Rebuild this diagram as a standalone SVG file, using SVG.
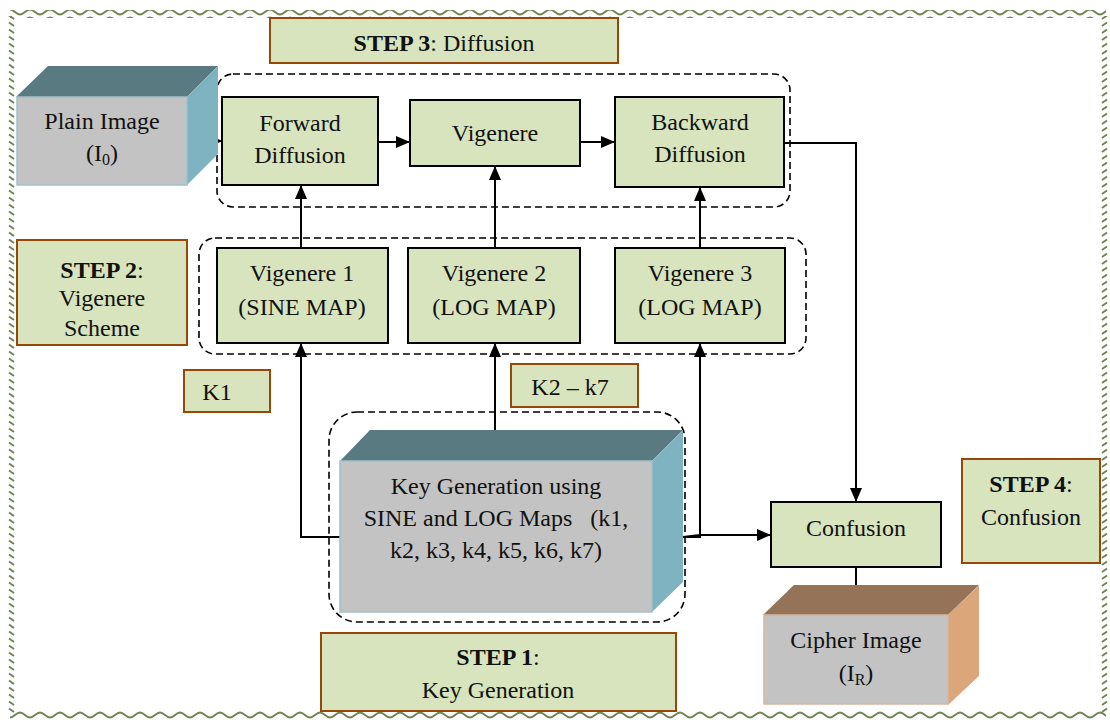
<svg xmlns="http://www.w3.org/2000/svg" width="1110" height="720" viewBox="0 0 1110 720">
  <style>
    text { font-family: "Liberation Serif", Tinos, "Times New Roman", "DejaVu Serif", serif; font-size: 24px; fill: #111; text-anchor: middle; }
    .b { font-weight: bold; }
    .node { fill: #d7e4bd; stroke: #000; stroke-width: 2; }
    .step { fill: #d7e4bd; stroke: #984806; stroke-width: 2; }
    .group { fill: none; stroke: #000; stroke-width: 1.6; stroke-dasharray: 7 4; }
    .wire { fill: none; stroke: #000; stroke-width: 2; }
    .front { fill: #c3c3c3; stroke-width: 1.5; }
  </style>
  <defs>
    <marker id="arrow" viewBox="0 0 14 12" refX="14" refY="6" markerWidth="14" markerHeight="12" markerUnits="userSpaceOnUse" orient="auto">
      <path d="M0,0 L14,6 L0,12 Z" fill="#000"/>
    </marker>
    <marker id="arrowSmall" viewBox="0 0 6 6" refX="6" refY="3" markerWidth="6" markerHeight="6" markerUnits="userSpaceOnUse" orient="auto">
      <path d="M0,0 L6,3 L0,6 Z" fill="#000"/>
    </marker>
    <pattern id="waveH" x="0" y="0" width="20" height="8" patternUnits="userSpaceOnUse">
      <path d="M0,6.5 C4,6.5 6,1.5 10,1.5 C14,1.5 16,6.5 20,6.5" fill="none" stroke="#6e8450" stroke-width="2"/>
    </pattern>
    <pattern id="waveB" x="0" y="711" width="20" height="8" patternUnits="userSpaceOnUse">
      <path d="M0,1.5 C4,1.5 6,6.5 10,6.5 C14,6.5 16,1.5 20,1.5" fill="none" stroke="#6e8450" stroke-width="2"/>
    </pattern>
    <pattern id="zigL" x="8" y="0" width="7" height="7" patternUnits="userSpaceOnUse">
      <path d="M1,1.5 L6,5" fill="none" stroke="#6e8450" stroke-width="2"/>
    </pattern>
    <pattern id="zigR" x="1101" y="0" width="7" height="7" patternUnits="userSpaceOnUse">
      <path d="M1,5 L6,1.5" fill="none" stroke="#6e8450" stroke-width="2"/>
    </pattern>
  </defs>

  <rect width="1110" height="720" fill="#fff"/>

  <!-- page border -->
  <g id="border">
    <rect x="10" y="10" width="1096" height="8" fill="url(#waveH)"/>
    <rect x="10" y="711" width="1096" height="8" fill="url(#waveB)"/>
    <rect x="8" y="16" width="7" height="697" fill="url(#zigL)"/>
    <rect x="1101" y="16" width="7" height="697" fill="url(#zigR)"/>
  </g>

  <!-- dashed stage groupings -->
  <g id="groups">
    <rect class="group" x="217" y="74" width="573" height="133" rx="16"/>
    <rect class="group" x="199" y="238" width="607" height="116" rx="16"/>
    <rect class="group" x="329" y="412" width="356" height="210" rx="28"/>
  </g>

  <!-- connectors -->
  <g id="connectors">
    <line class="wire" x1="216" y1="141" x2="222" y2="141" stroke-width="1.5" marker-end="url(#arrowSmall)"/>
    <line class="wire" x1="378" y1="142" x2="410" y2="142" marker-end="url(#arrow)"/>
    <line class="wire" x1="580" y1="142" x2="615" y2="142" marker-end="url(#arrow)"/>
    <path class="wire" d="M784,143 H856 V502" marker-end="url(#arrow)"/>
    <line class="wire" x1="301" y1="248" x2="301" y2="185" marker-end="url(#arrow)"/>
    <line class="wire" x1="495" y1="248" x2="495" y2="166" marker-end="url(#arrow)"/>
    <line class="wire" x1="700" y1="248" x2="700" y2="187" marker-end="url(#arrow)"/>
    <path class="wire" d="M340,537 H301 V343" marker-end="url(#arrow)"/>
    <line class="wire" x1="495" y1="431" x2="495" y2="343" marker-end="url(#arrow)"/>
    <path class="wire" d="M683,537 H700 V343" marker-end="url(#arrow)"/>
    <path class="wire" d="M683,537 L700,535 H771" marker-end="url(#arrow)"/>
    <line class="wire" x1="856" y1="567" x2="856" y2="586"/>
  </g>

  <!-- input image -->
  <g id="plain-image">
    <polygon points="16,97 48,66 218,66 187,97" fill="#5a7a82"/>
    <polygon points="187,97 218,66 218,154 187,185" fill="#7fb3c2"/>
    <rect class="front" x="17" y="97" width="170" height="88" stroke="#a3c1ca"/>
    <text x="102" y="129">Plain Image</text>
    <text x="102" y="161">(I<tspan font-size="16" dy="4">0</tspan><tspan dy="-4">)</tspan></text>
  </g>

  <!-- step 3 : diffusion -->
  <g id="step3-label">
    <rect class="step" x="270" y="18" width="348" height="45"/>
    <text x="444" y="51"><tspan class="b">STEP 3</tspan>: Diffusion</text>
  </g>
  <g id="forward-diffusion">
    <rect class="node" x="222" y="97" width="156" height="88"/>
    <text x="300" y="131">Forward</text>
    <text x="300" y="163">Diffusion</text>
  </g>
  <g id="vigenere">
    <rect class="node" x="410" y="100" width="170" height="66"/>
    <text x="495" y="141">Vigenere</text>
  </g>
  <g id="backward-diffusion">
    <rect class="node" x="615" y="97" width="169" height="90"/>
    <text x="700" y="130">Backward</text>
    <text x="700" y="162">Diffusion</text>
  </g>

  <!-- step 2 : vigenere scheme -->
  <g id="step2-label">
    <rect class="step" x="17" y="240" width="170" height="105"/>
    <text x="102" y="278"><tspan class="b">STEP 2</tspan>:</text>
    <text x="102" y="306">Vigenere</text>
    <text x="102" y="336">Scheme</text>
  </g>
  <g id="vigenere-1">
    <rect class="node" x="217" y="248" width="171" height="95"/>
    <text x="302" y="281">Vigenere 1</text>
    <text x="302" y="315">(SINE MAP)</text>
  </g>
  <g id="vigenere-2">
    <rect class="node" x="408" y="248" width="172" height="95"/>
    <text x="494" y="281">Vigenere 2</text>
    <text x="494" y="315">(LOG MAP)</text>
  </g>
  <g id="vigenere-3">
    <rect class="node" x="615" y="248" width="170" height="95"/>
    <text x="700" y="281">Vigenere 3</text>
    <text x="700" y="315">(LOG MAP)</text>
  </g>

  <!-- key labels -->
  <g id="label-k1">
    <rect class="step" x="184" y="370" width="86" height="42"/>
    <text x="217" y="400">K1</text>
  </g>
  <g id="label-k2-k7">
    <rect class="step" x="511" y="364" width="127" height="43"/>
    <text x="570" y="395">K2 – k7</text>
  </g>

  <!-- step 1 : key generation -->
  <g id="key-generation">
    <polygon points="340,461 370,430 683,430 652,461" fill="#5a7a82"/>
    <polygon points="652,461 683,430 683,582 652,612" fill="#7fb3c2"/>
    <rect class="front" x="340" y="461" width="312" height="151" stroke="#a3c1ca"/>
    <text x="496" y="494">Key Generation using</text>
    <text x="496" y="526" xml:space="preserve">SINE and LOG Maps   (k1,</text>
    <text x="496" y="558">k2, k3, k4, k5, k6, k7)</text>
  </g>
  <g id="step1-label">
    <rect class="step" x="321" y="633" width="355" height="78"/>
    <text x="498" y="665"><tspan class="b">STEP 1</tspan>:</text>
    <text x="498" y="698">Key Generation</text>
  </g>

  <!-- step 4 : confusion -->
  <g id="confusion">
    <rect class="node" x="771" y="502" width="170" height="65"/>
    <text x="856" y="536">Confusion</text>
  </g>
  <g id="step4-label">
    <rect class="step" x="962" y="459" width="138" height="104"/>
    <text x="1031" y="492"><tspan class="b">STEP 4</tspan>:</text>
    <text x="1031" y="525">Confusion</text>
  </g>

  <!-- output image -->
  <g id="cipher-image">
    <polygon points="763,615 794,585 979,585 948,615" fill="#957358"/>
    <polygon points="948,615 979,585 979,676 948,705" fill="#dca67b"/>
    <rect class="front" x="764" y="615" width="184" height="89" stroke="#d8b79c"/>
    <text x="856" y="648">Cipher Image</text>
    <text x="856" y="681">(I<tspan font-size="16" dy="4">R</tspan><tspan dy="-4">)</tspan></text>
  </g>
</svg>
